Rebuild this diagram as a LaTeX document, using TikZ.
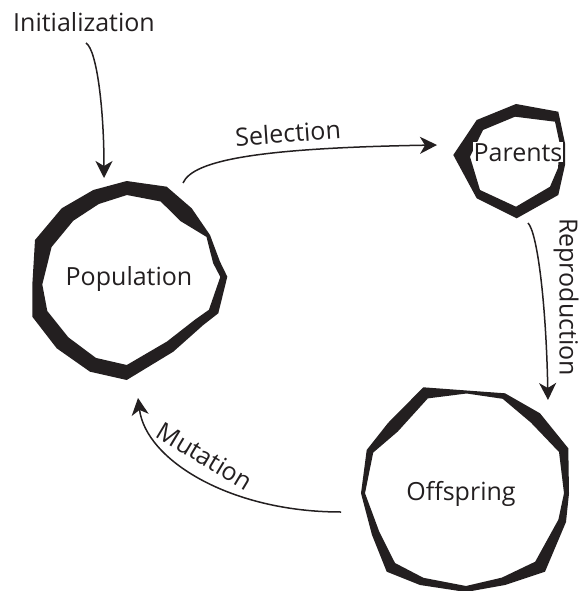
\documentclass[tikz,border=0pt]{standalone}
\usepackage{fontspec}
\setmainfont{Open Sans}
\usetikzlibrary{arrows.meta}
\definecolor{ink}{HTML}{231F20}
\begin{document}
\begin{tikzpicture}[x=1pt,y=-1pt,
  ring/.style={fill=ink, even odd rule},
  label/.style={font=\fontsize{25}{30}\selectfont, text=ink, inner sep=0pt},
  flow/.style={line width=1.5pt, draw=ink,
    -{Stealth[length=17pt,width=17pt,inset=5pt]}}]
\useasboundingbox (0,0) rectangle (584,591);

% Population ring: outer outline, then inner outline
\fill[ring]
  (126.7,181) -- (166.7,186.7) -- (191.7,208.3) -- (210,235) -- (220,261.7)
  -- (227.3,276.7) -- (218.3,313.3) -- (203.3,325) -- (173.3,351.7)
  -- (126.7,380) -- (90,371.7) -- (56.7,348.3) -- (32.3,316.7) -- (32.3,285)
  -- (35,240) -- (61.7,208.3) -- (93.3,190) -- cycle
  (126.9,195) -- (160.7,201.5) -- (180.5,221.1) -- (206.5,236.9) -- (213.1,263.1)
  -- (220.3,276.9) -- (208.9,309.8) -- (194.8,319.8) -- (167,341.5)
  -- (126.8,365) -- (95.9,357.9) -- (68.3,337.3) -- (47.3,311) -- (42.3,284.5)
  -- (51.6,247) -- (73.3,220.7) -- (98.8,204) -- cycle;

% Parents ring
\fill[ring]
  (516,104) -- (558.3,111.7) -- (565,143.3) -- (565,165) -- (558.3,195)
  -- (516.7,218.3) -- (476.7,198.3) -- (453.3,155) -- (476.7,120) -- cycle
  (515,116.7) -- (555,121.7) -- (560,145) -- (558,168) -- (550,186.7)
  -- (516,206.7) -- (480,190) -- (470,156.7) -- (483,130) -- cycle;

% Offspring ring
\fill[ring]
  (423.3,387.3) -- (466.7,390.5) -- (505,393.3) -- (540,413.3) -- (568.3,448.3)
  -- (569,493.3) -- (566,522) -- (545,571.7) -- (505,585) -- (466,592)
  -- (420,585) -- (386.7,571.7) -- (372,535) -- (361,493.3) -- (366.7,450)
  -- (388,423) -- cycle
  (427.8,398.4) -- (466.6,393.5) -- (502.7,398.8) -- (530.9,422.6) -- (559,452)
  -- (564,493.2) -- (558.4,519.6) -- (535.2,561.7) -- (501.9,577.6) -- (466,586)
  -- (423.4,577.8) -- (395,563) -- (379.2,531.5) -- (365,493.2) -- (373.2,452.6)
  -- (397.8,431.5) -- cycle;

% state labels
\node[label, anchor=base] (pop) at (129,285) {Population};
\node[label, anchor=base, fill=white, inner sep=1pt] (par) at (518,161) {Parents};
\node[label, anchor=base] (off) at (461,500) {Offspring};

% connector end points
\coordinate (initStart) at (86,43);
\coordinate (initEnd) at (104,178);
\coordinate (selStart) at (183,183);
\coordinate (selEnd) at (437,145);
\coordinate (repStart) at (528,223);
\coordinate (repEnd) at (548,400);
\coordinate (mutStart) at (341,512);
\coordinate (mutEnd) at (138,398);

% transitions
\node[label, anchor=base] (init) at (84,32) {Initialization};
\draw[flow] (initStart) .. controls (97,50) and (104,110) .. (initEnd);
\draw[flow] (selStart) .. controls (193,160) and (260,148) .. (selEnd);
\draw[flow] (repStart) .. controls (537,232) and (546,300) .. (repEnd);
\draw[flow] (mutStart) .. controls (230,512) and (146,460) .. (mutEnd);

\node[label, rotate=4] (sel) at (288,133) {Selection};
\node[label, rotate=-90] (rep) at (566,297) {Reproduction};
\node[label, rotate=-31] (mut) at (205,456) {Mutation};
\end{tikzpicture}
\end{document}
